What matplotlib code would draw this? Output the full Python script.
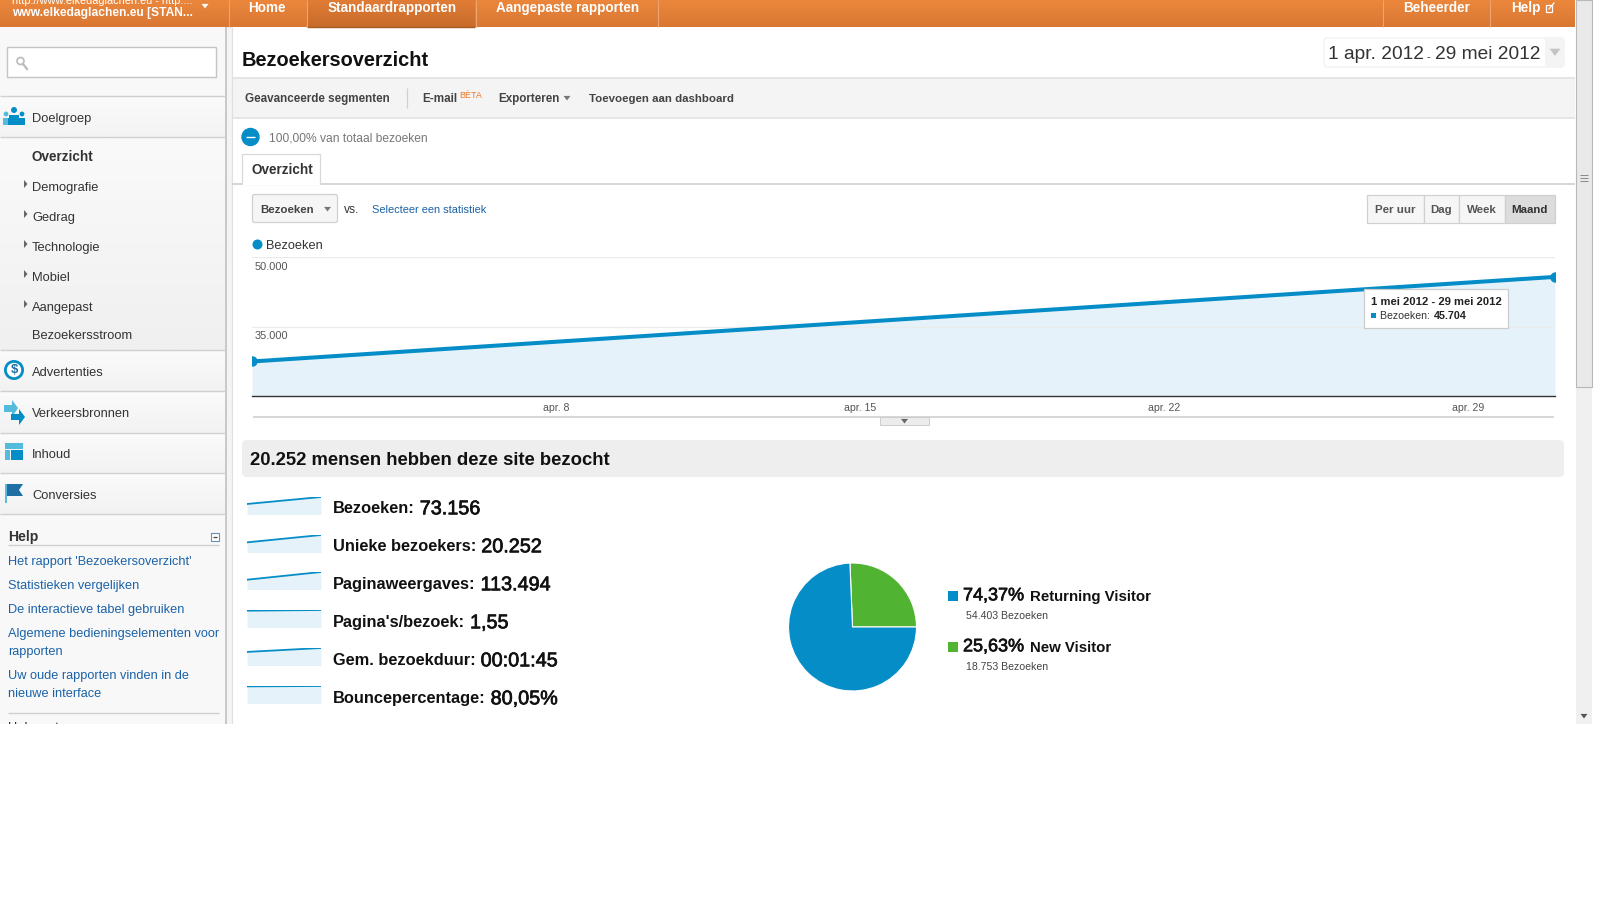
import matplotlib
matplotlib.use("Agg")
import matplotlib.pyplot as plt
import matplotlib.patheffects as pe
from matplotlib.patches import Rectangle, Circle, Polygon, FancyBboxPatch
import numpy as np

plt.rcParams['font.family'] = ['Liberation Sans', 'DejaVu Sans']

# line chart
month_days = [0, 30]
month_visits = [27452, 45704]
y_ticks = [35000, 50000]
y_labels = ['35.000', '50.000']
tick_days = [7, 14, 21, 28]
tick_labels = ['apr. 8', 'apr. 15', 'apr. 22', 'apr. 29']

# metrics
metric_names = ['Bezoeken:', 'Unieke bezoekers:', 'Paginaweergaves:', "Pagina's/bezoek:", 'Gem. bezoekduur:', 'Bouncepercentage:']
metric_values = ['73.156', '20.252', '113.494', '1,55', '00:01:45', '80,05%']
spark_visits = [27452, 45704]
spark_unique = [11000, 19000]
spark_pages = [40700, 72794]
spark_per_visit = [1.52, 1.58]
spark_duration = [90, 116]
spark_bounce = [79.0, 80.7]
sparks = [spark_visits, spark_unique, spark_pages, spark_per_visit, spark_duration, spark_bounce]

# pie
visitor_types = ['Returning Visitor', 'New Visitor']
visitor_counts = [54403, 18753]
visitor_pcts = ['74,37%', '25,63%']
visitor_counts_txt = ['54.403 Bezoeken', '18.753 Bezoeken']

# menus
side_sub = ['Demografie', 'Gedrag', 'Technologie', 'Mobiel', 'Aangepast']
side_main = ['Advertenties', 'Verkeersbronnen', 'Inhoud', 'Conversies']
help_links = ["Het rapport 'Bezoekersoverzicht'", 'Statistieken vergelijken', 'De interactieve tabel gebruiken',
              'Algemene bedieningselementen voor', 'rapporten', 'Uw oude rapporten vinden in de', 'nieuwe interface']
period_btns = ['Per uur', 'Dag', 'Week', 'Maand']

BLUE = '#058dc7'
GREEN = '#50b432'
FILL = '#e6f2f9'
LINK = '#1a62a8'
RIGHT = 1575  # content ends here, then the scrollbar

fig = plt.figure(figsize=(16, 9), dpi=100, facecolor='white')
bg = fig.add_axes([0, 0, 1, 1])
bg.set_axis_off()
bg.set_xlim(0, 1600)
bg.set_ylim(900, 0)
renderer = fig.canvas.get_renderer()


def rect(x0, y0, x1, y1, fc, ec='none', lw=0, z=1):
    bg.add_patch(Rectangle((x0, y0), x1 - x0, y1 - y0, fc=fc, ec=ec, lw=lw, zorder=z))


def hline(x0, x1, y, c='#d4d4d4', lw=1.4, z=3):
    bg.plot([x0, x1], [y, y], color=c, lw=lw, zorder=z, solid_capstyle='butt')


def vline(x, y0, y1, c='#d4d4d4', lw=1.0, z=3):
    bg.plot([x, x], [y0, y1], color=c, lw=lw, zorder=z, solid_capstyle='butt')


def grad(x0, y0, x1, y1, top, bottom, z=1):
    g = np.linspace(0, 1, 64).reshape(-1, 1, 1)
    a = np.array(matplotlib.colors.to_rgb(top))
    b = np.array(matplotlib.colors.to_rgb(bottom))
    bg.imshow(a + (b - a) * g, extent=(x0, x1, y1, y0), aspect='auto', zorder=z, interpolation='bilinear')


def txt(x, y, s, px=12, c='#333333', w='normal', ha='left', z=6):
    return bg.text(x, y + 0.8, s, fontsize=px * 0.72, color=c, fontweight=w, ha=ha, va='center', zorder=z)


def tri(x, y, size=4, c='#777777', z=6):
    bg.add_patch(Polygon([(x - size, y - size * 0.6), (x + size, y - size * 0.6), (x, y + size * 0.7)], fc=c, ec='none', zorder=z))


def px_axes(x0, y0, x1, y1):
    return fig.add_axes([x0 / 1600, 1 - y1 / 900, (x1 - x0) / 1600, (y1 - y0) / 900])


# top bar
grad(0, 0, RIGHT, 27, '#eb873c', '#d97733')
grad(307, 0, 475, 27, '#e07c35', '#c96c2b', z=2)
hline(307, 475, 26.5, '#a55c20', 1.0)
for x in [229, 307, 475.5, 658, 1382.5, 1490]:
    vline(x, 0, 27, '#eda56f', 0.8)
txt(12, 0, 'http://www.elkedaglachen.eu - http:...', 11, 'white')
txt(12, 12.5, 'www.elkedaglachen.eu [STAN...', 12, 'white', 'bold')
tri(205, 6, 3.5, 'white')
txt(248.5, 7, 'Home', 13.5, 'white', 'bold')
txt(328, 7, 'Standaardrapporten', 13.5, 'white', 'bold')
txt(496, 7, 'Aangepaste rapporten', 13.5, 'white', 'bold')
txt(1403, 7, 'Beheerder', 13.5, 'white', 'bold')
txt(1511, 7, 'Help', 13.5, 'white', 'bold')
rect(1546, 5, 1552, 12, 'none', 'white', 0.9, z=6)
bg.plot([1549, 1554], [9, 3], color='white', lw=0.9, zorder=6)

# sidebar
rect(0, 27, 225, 724, '#f8f8f8')
rect(225, 27, 232, 724, '#f4f4f4')
vline(225.5, 27, 724, '#c8c8c8', 1.4)
vline(232, 27, 724, '#e0e0e0', 0.8)
rect(7, 47, 216, 77, 'white', '#c4c4c4', 1.0, z=2)
bg.add_patch(Circle((20.5, 61), 3.5, fc='none', ec='#bbbbbb', lw=1.2, zorder=3))
bg.plot([23, 27], [64, 69], color='#bbbbbb', lw=1.6, zorder=3)

grad(0, 96, 225, 137, '#fbfbfb', '#f3f3f3')
grad(0, 137, 225, 350, '#fafafa', '#f0f0f0')
for (a, b) in [(350, 391), (391, 433), (433, 473), (473, 514)]:
    grad(0, a, 225, b, '#fbfbfb', '#f2f2f2')
for y in [96, 137, 350, 391, 433, 473, 514]:
    hline(0, 225, y, '#d0d0d0', 1.0)

txt(32, 118, 'Doelgroep', 12.9)
txt(32, 156, 'Overzicht', 13.5, '#333333', 'bold')
for y, s in zip([187, 217, 247, 277, 307], side_sub):
    txt(32, y, s, 12.9)
    bg.add_patch(Polygon([(24, y - 7), (24, y + 1), (27.5, y - 3)], fc='#666666', zorder=6))
txt(32, 335, 'Bezoekersstroom', 12.9)
for y, s in zip([372, 413, 454, 495], side_main):
    txt(32, y, s, 12.9)

# sidebar icons
bg.add_patch(Circle((14, 110), 3, fc=BLUE, zorder=5))
bg.add_patch(Circle((6, 114), 2.4, fc='#55bbdd', zorder=5))
bg.add_patch(Circle((22, 114), 2.4, fc=BLUE, zorder=5))
rect(3, 117.5, 25, 125, BLUE, z=5)
rect(3, 117.5, 8, 125, '#55bbdd', z=5)
rect(9, 114.5, 19, 125, BLUE, z=5)
bg.add_patch(Circle((14, 370), 10, fc=BLUE, zorder=5))
bg.add_patch(Circle((14, 370), 7.2, fc='white', zorder=5))
txt(14, 369, '$', 13, '#1f6fa5', 'bold', ha='center')
bg.add_patch(Polygon([(4, 405), (12, 405), (12, 400), (18, 408), (12, 417), (12, 412), (4, 412)], fc='#55bbdd', zorder=5))
bg.add_patch(Polygon([(11, 414), (19, 414), (19, 409), (25, 417), (19, 425), (19, 420), (11, 420)], fc=BLUE, zorder=5))
rect(5, 443, 23, 449, '#55bbdd', z=5)
rect(5, 450, 10, 460, '#55bbdd', z=5)
rect(11, 450, 23, 460, BLUE, z=5)
vline(6, 484, 503, '#55bbdd', 1.4, z=5)
bg.add_patch(Polygon([(7, 484), (23, 484), (19, 490), (23, 496), (7, 496)], fc='#1f6fa5', zorder=5))

txt(8, 536, 'Help', 14, '#333333', 'bold')
rect(211, 533, 219, 541, 'white', '#6a8fb5', 0.8, z=5)
hline(213, 217, 537, '#444444', 0.9, z=6)
hline(8, 219, 545, '#d0d0d0', 1.0)
for y, s in zip([561, 585, 609, 633, 651, 675, 693], help_links):
    txt(8, y, s, 12.8, LINK)
hline(8, 219, 713, '#d0d0d0', 1.0)
txt(8, 727, 'Hulpcentrum', 12.9)

# header and toolbar
txt(242, 60, 'Bezoekersoverzicht', 20, '#111111', 'bold')
bg.add_patch(FancyBboxPatch((1324, 38), 240, 29, boxstyle='round,pad=0,rounding_size=3', fc='white', ec='#eeeeee', lw=0.8, zorder=2))
rect(1545, 38, 1564, 67, '#f4f4f4', z=3)
txt(1328, 54, '1 apr. 2012', 19.2, '#333333')
txt(1427, 56, '-', 11, '#333333')
txt(1435, 54, '29 mei 2012', 19.2, '#333333')
tri(1555, 52, 5.5, '#c4c4c4')
rect(232, 77, RIGHT, 118, '#f4f4f4')
hline(232, RIGHT, 77.5, '#e2e2e2', 1.2)
hline(232, RIGHT, 118, '#e2e2e2', 1.2)
txt(245, 98, 'Geavanceerde segmenten', 11.6, '#444444', 'bold')
vline(407, 88, 108, '#d0d0d0', 0.9)
txt(422, 98, 'E-mail', 11.6, '#444444', 'bold')
txt(459, 95, 'BÈTA', 9, '#ee7722')
txt(498, 98, 'Exporteren', 11.6, '#444444', 'bold')
tri(567, 98, 3.5)
txt(589, 98, 'Toevoegen aan dashboard', 11.5, '#444444', 'bold')

bg.add_patch(Circle((250.5, 137), 9.2, fc=BLUE, zorder=4))
hline(246, 255, 137, 'white', 1.0, z=5)
txt(269, 137.5, '100,00% van totaal bezoeken', 12, '#777777')

hline(232, RIGHT, 183.5, '#cfcfcf', 1.2)
rect(242, 154, 320, 184, 'white', '#d8d8d8', 0.9, z=4)
hline(242.5, 319.5, 184, 'white', 1.6, z=5)
txt(251, 169, 'Overzicht', 13.5, '#333333', 'bold')

bg.add_patch(FancyBboxPatch((252.5, 194.5), 85, 28, boxstyle='round,pad=0,rounding_size=2', fc='#f6f6f6', ec='#d0d0d0', lw=0.9, zorder=3))
txt(260, 209, 'Bezoeken', 11.5, '#444444', 'bold')
tri(327.5, 209, 3.5)
txt(344, 209, 'vs.', 12, '#333333')
txt(372, 209, 'Selecteer een statistiek', 11, LINK)

# period buttons
btn_edges = [1367, 1423.5, 1458.7, 1504.6, 1555]
for i, s in enumerate(period_btns):
    active = s == 'Maand'
    rect(btn_edges[i], 194.5, btn_edges[i + 1], 222.5, '#dcdcdc' if active else '#f6f6f6', '#d0d0d0', 0.9, z=3)
    txt((btn_edges[i] + btn_edges[i + 1]) / 2, 209, s, 11.5, '#333333' if active else '#555555', 'bold', ha='center')

# legend of line chart
bg.add_patch(Circle((257.5, 244.5), 5, fc=BLUE, zorder=4))
txt(266, 245, 'Bezoeken', 12.8, '#333333')

hline(253, 1554, 417, '#d0d0d0', 1.2)
rect(880, 417, 929, 425, '#ececec', '#cccccc', 0.7, z=4)
tri(904.5, 421, 3.5, '#666666')

# grey band
bg.add_patch(FancyBboxPatch((242, 440), 1322, 37, boxstyle='round,pad=0,rounding_size=5', fc='#eeeeee', ec='none', zorder=2))
txt(250, 459.5, '20.252 mensen hebben deze site bezocht', 18.5, '#111111', 'bold')

# values are a bit heavier than regular in the screenshot
heavy = [pe.withStroke(linewidth=0.5, foreground='#111111')]

# metric labels
metric_y = [508, 546, 584, 622, 660, 698]
for y, n, v in zip(metric_y, metric_names, metric_values):
    t = txt(333, y, n, 16.4, '#111111', 'bold')
    x1 = t.get_window_extent(renderer).x1
    txt(x1 + 5, y, v, 19.8, '#111111').set_path_effects(heavy)

# pie legend
legend_y = [596, 647]
for y, col, pct, name, cnt in zip(legend_y, [BLUE, GREEN], visitor_pcts, visitor_types, visitor_counts_txt):
    rect(948, y - 5, 958, y + 5, col, z=4)
    t = txt(963, y - 1, pct, 18, '#111111')
    t.set_path_effects(heavy)
    x1 = t.get_window_extent(renderer).x1
    txt(x1 + 6, y, name, 15, '#111111', 'bold')
    txt(966, y + 19, cnt, 10.5, '#444444')

# scrollbar
rect(1576, 0, 1592, 724, '#f0f0f0')
rect(1576, 0, 1592, 387, '#e9e9e9', '#b8b8b8', 0.8, z=2)
for y in [175, 178, 181]:
    hline(1580, 1588, y, '#888888', 0.7)
tri(1584, 716, 3.5, '#555555')

# everything stops here, below the page is white
rect(0, 724, 1600, 900, 'white', z=10)

# line chart
ax = px_axes(252, 257, 1555, 396)
ax.fill_between(month_days, month_visits, 20000, color=FILL, lw=0, zorder=1)
ax.plot(month_days, month_visits, color=BLUE, lw=2.9, marker='o', ms=6.5, zorder=3)
ax.set_xlim(0, 30)
ax.set_ylim(20000, 50000)
ax.set_yticks(y_ticks)
ax.set_yticklabels([])
ax.grid(axis='y', color='#ebebeb', lw=0.9, zorder=2)
ax.set_axisbelow(False)
ax.set_xticks(tick_days, tick_labels)
ax.tick_params(axis='both', length=0)
ax.tick_params(axis='x', labelsize=10.5 * 0.72, labelcolor='#555555', pad=5)
for s in ['top', 'left', 'right']:
    ax.spines[s].set_visible(False)
ax.spines['bottom'].set_color('#333333')
ax.spines['bottom'].set_linewidth(1.0)
ax.patch.set_alpha(0)
for v, s in zip(y_ticks, y_labels):
    ax.text(0.002, v - 1000, s, transform=ax.get_yaxis_transform(), fontsize=11 * 0.72, color='#555555', va='top', ha='left', zorder=4)

# tooltip
tip = fig.add_axes([0, 0, 1, 1])
tip.set_axis_off()
tip.set_xlim(0, 1600)
tip.set_ylim(900, 0)
tip.add_patch(Rectangle((1364, 289), 144, 39, fc='white', ec='#cccccc', lw=0.9))
tip.add_patch(Rectangle((1371, 313), 5, 5, fc=BLUE, ec='none'))
tip.text(1371, 302, '1 mei 2012 - 29 mei 2012', fontsize=11.2 * 0.72, fontweight='bold', color='#222222', va='center')
t = tip.text(1380, 316, 'Bezoeken: ', fontsize=10.5 * 0.72, color='#333333', va='center')
tip.text(t.get_window_extent(renderer).x1 + 1, 316, '45.704', fontsize=10.8 * 0.72, fontweight='bold', color='#222222', va='center')

# sparklines
spark_top = [497, 535, 572, 610, 648, 686]
for top, vals in zip(spark_top, sparks):
    sp = px_axes(247, top, 321, top + 17.5)
    sp.fill_between([0, 1], vals, 0, color=FILL, lw=0)
    sp.plot([0, 1], vals, color=BLUE, lw=1.3)
    sp.set_xlim(0, 1)
    sp.set_ylim(0, max(vals))
    sp.set_axis_off()

# pie, green slice starts just left of the top
pie_ax = px_axes(852.5 - 64.5, 627 - 64.5, 852.5 + 64.5, 627 + 64.5)
pie_ax.pie(visitor_counts[::-1], colors=[GREEN, BLUE], startangle=92.3, counterclock=False, radius=1,
           wedgeprops={'edgecolor': 'white', 'linewidth': 0.8})
pie_ax.set_xlim(-1.008, 1.008)
pie_ax.set_ylim(-1.008, 1.008)

fig.savefig('out.png', dpi=100)
